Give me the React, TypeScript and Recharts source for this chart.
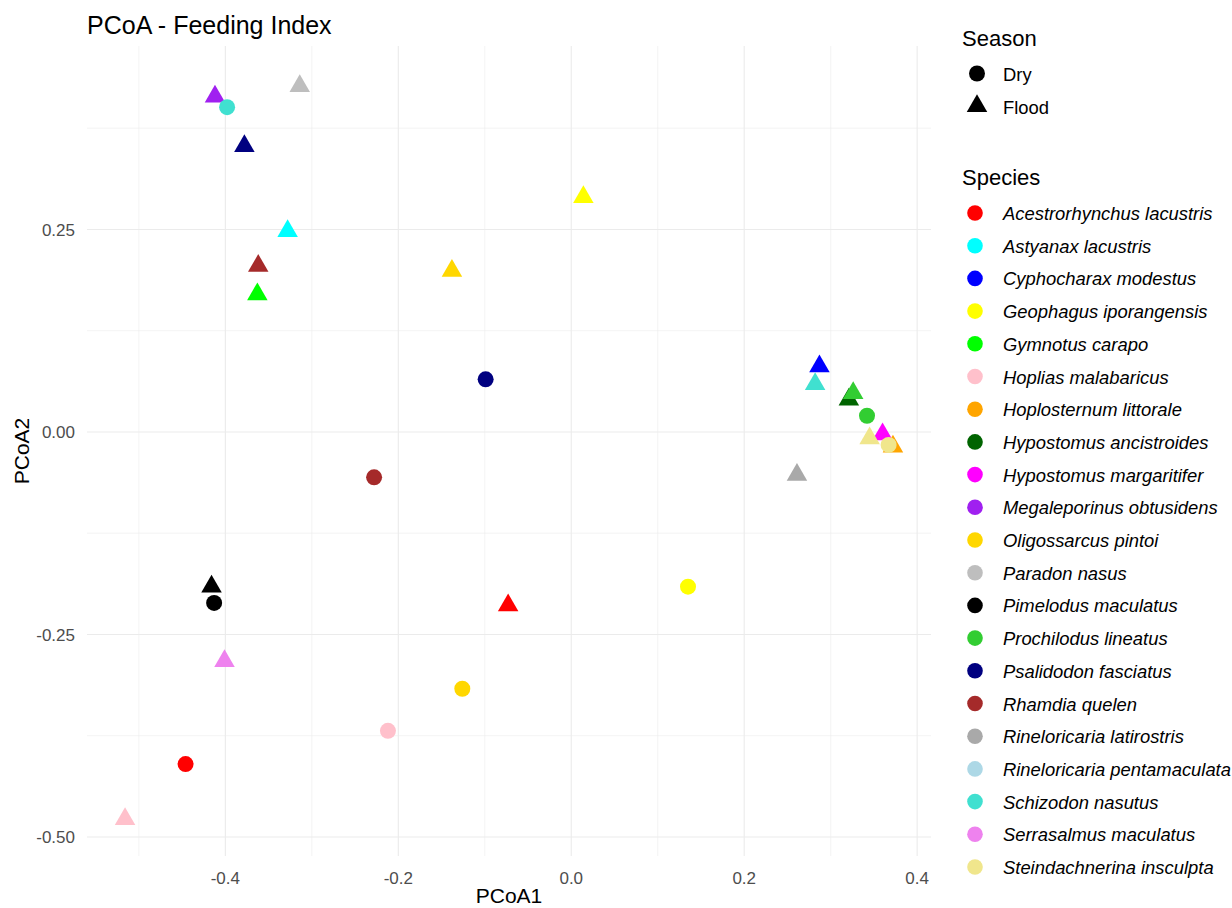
import { ScatterChart, Scatter, XAxis, YAxis, ReferenceLine } from 'recharts';

const FONT = '"Liberation Sans", Arial, sans-serif';

const speciesNames = [
  'Acestrorhynchus lacustris',
  'Astyanax lacustris',
  'Cyphocharax modestus',
  'Geophagus iporangensis',
  'Gymnotus carapo',
  'Hoplias malabaricus',
  'Hoplosternum littorale',
  'Hypostomus ancistroides',
  'Hypostomus margaritifer',
  'Megaleporinus obtusidens',
  'Oligossarcus pintoi',
  'Paradon nasus',
  'Pimelodus maculatus',
  'Prochilodus lineatus',
  'Psalidodon fasciatus',
  'Rhamdia quelen',
  'Rineloricaria latirostris',
  'Rineloricaria pentamaculata',
  'Schizodon nasutus',
  'Serrasalmus maculatus',
  'Steindachnerina insculpta',
];

const speciesColors = [
  '#FF0000', '#00FFFF', '#0000FF', '#FFFF00', '#00FF00', '#FFC0CB', '#FFA500',
  '#006400', '#FF00FF', '#A020F0', '#FFD700', '#BEBEBE', '#000000', '#32CD32',
  '#000080', '#A52A2A', '#A9A9A9', '#ADD8E6', '#40E0D0', '#EE82EE', '#F0E68C',
];

const seasons = ['Dry', 'Flood'];

// one entry per sample, drawn in this order
const pointSpecies = [
  'Megaleporinus obtusidens', 'Schizodon nasutus', 'Paradon nasus', 'Psalidodon fasciatus',
  'Astyanax lacustris', 'Rhamdia quelen', 'Gymnotus carapo', 'Geophagus iporangensis',
  'Oligossarcus pintoi', 'Psalidodon fasciatus', 'Rhamdia quelen', 'Pimelodus maculatus',
  'Pimelodus maculatus', 'Acestrorhynchus lacustris', 'Geophagus iporangensis', 'Serrasalmus maculatus',
  'Oligossarcus pintoi', 'Hoplias malabaricus', 'Acestrorhynchus lacustris', 'Hoplias malabaricus',
  'Cyphocharax modestus', 'Schizodon nasutus', 'Hypostomus ancistroides', 'Prochilodus lineatus',
  'Prochilodus lineatus', 'Hoplosternum littorale', 'Hypostomus margaritifer', 'Steindachnerina insculpta',
  'Steindachnerina insculpta', 'Rineloricaria latirostris',
];
const pointSeason = [
  'Flood', 'Dry', 'Flood', 'Flood',
  'Flood', 'Flood', 'Flood', 'Flood',
  'Flood', 'Dry', 'Dry', 'Flood',
  'Dry', 'Flood', 'Dry', 'Flood',
  'Dry', 'Dry', 'Dry', 'Flood',
  'Flood', 'Flood', 'Flood', 'Flood',
  'Dry', 'Flood', 'Flood', 'Flood',
  'Dry', 'Flood',
];
const pcoa1 = [
  -0.412, -0.398, -0.314, -0.378,
  -0.328, -0.362, -0.363, 0.014,
  -0.138, -0.099, -0.228, -0.416,
  -0.413, -0.073, 0.135, -0.401,
  -0.126, -0.212, -0.446, -0.516,
  0.287, 0.282, 0.321, 0.326,
  0.342, 0.372, 0.36, 0.345,
  0.367, 0.261,
];
const pcoa2 = [
  0.414, 0.401, 0.427, 0.353,
  0.248, 0.205, 0.17, 0.29,
  0.199, 0.065, -0.056, -0.191,
  -0.211, -0.214, -0.191, -0.283,
  -0.317, -0.369, -0.41, -0.478,
  0.081, 0.059, 0.04, 0.048,
  0.02, -0.018, -0.003, -0.008,
  -0.016, -0.053,
];

const xTicks = [-0.4, -0.2, 0, 0.2, 0.4];
const xMinor = [-0.5, -0.3, -0.1, 0.1, 0.3];
const yTicks = [-0.5, -0.25, 0, 0.25];
const yMinor = [-0.375, -0.125, 0.125, 0.375];

const data = pointSpecies.map((sp, i) => ({
  species: sp,
  season: pointSeason[i],
  x: pcoa1[i],
  y: pcoa2[i],
  color: speciesColors[speciesNames.indexOf(sp)],
}));

function Marker({ cx, cy, season, fill }: { cx: number; cy: number; season: string; fill: string }) {
  if (season === 'Flood') {
    const s = 20.5;
    const R = s / Math.sqrt(3);
    const pts = `${cx},${cy - R} ${cx - s / 2},${cy + R / 2} ${cx + s / 2},${cy + R / 2}`;
    return <polygon points={pts} fill={fill} />;
  }
  return <circle cx={cx} cy={cy} r={8} fill={fill} />;
}

function Overlay() {
  return (
    <svg width={1232} height={908} style={{ position: 'absolute', left: 0, top: 0, pointerEvents: 'none' }}>
      <text x={87} y={34} fontSize={25} fontFamily={FONT} fill="#000">PCoA - Feeding Index</text>
      <text x={962} y={46} fontSize={22} fontFamily={FONT} fill="#000">Season</text>
      {seasons.map((s, i) => {
        const cy = 73.5 + i * 32.5;
        return (
          <g key={s}>
            <Marker cx={977} cy={cy} season={s} fill="#000" />
            <text x={1003} y={cy + 7.5} fontSize={18.4} fontFamily={FONT} fill="#000">{s}</text>
          </g>
        );
      })}
      <text x={962} y={185} fontSize={22} fontFamily={FONT} fill="#000">Species</text>
      {speciesNames.map((s, i) => {
        const cy = 213 + i * 32.7;
        return (
          <g key={s}>
            <circle cx={975} cy={cy} r={7.8} fill={speciesColors[i]} />
            <text x={1003} y={cy + 7} fontSize={18.4} fontStyle="italic" fontFamily={FONT} fill="#000">{s}</text>
          </g>
        );
      })}
    </svg>
  );
}

export default function App() {
  return (
    <div style={{ position: 'absolute', left: 0, top: 0, width: 1232, height: 908, background: '#fff' }}>
      <ScatterChart width={1232} height={908} margin={{ top: 46, right: 301, left: 0, bottom: 0 }}>
        {xMinor.map((v) => (
          <ReferenceLine key={`xm${v}`} x={v} stroke="#ededed" strokeWidth={0.6} />
        ))}
        {yMinor.map((v) => (
          <ReferenceLine key={`ym${v}`} y={v} stroke="#ededed" strokeWidth={0.6} />
        ))}
        {xTicks.map((v) => (
          <ReferenceLine key={`xM${v}`} x={v} stroke="#ebebeb" strokeWidth={1.1} />
        ))}
        {yTicks.map((v) => (
          <ReferenceLine key={`yM${v}`} y={v} stroke="#ebebeb" strokeWidth={1.1} />
        ))}
        <XAxis
          type="number"
          dataKey="x"
          domain={[-0.56, 0.416]}
          allowDataOverflow
          ticks={xTicks}
          tickFormatter={(v: number) => v.toFixed(1)}
          axisLine={false}
          tickLine={false}
          tickMargin={10}
          height={52}
          tick={{ fill: '#4d4d4d', fontSize: 17, fontFamily: FONT }}
          label={{ value: 'PCoA1', position: 'insideBottom', offset: 5, fill: '#000', fontSize: 21, fontFamily: FONT }}
        />
        <YAxis
          type="number"
          dataKey="y"
          domain={[-0.5235, 0.4765]}
          allowDataOverflow
          ticks={yTicks}
          tickFormatter={(v: number) => v.toFixed(2)}
          axisLine={false}
          tickLine={false}
          tickMargin={6}
          width={87}
          tick={{ fill: '#4d4d4d', fontSize: 17, fontFamily: FONT }}
          label={(props: any) => {
            const vb = props.viewBox || { x: 0, y: 46, width: 87, height: 810 };
            const cx = vb.x + 21;
            const cy = vb.y + vb.height / 2;
            return (
              <text x={cx} y={cy} transform={`rotate(-90 ${cx} ${cy})`} textAnchor="middle" dominantBaseline="central" fontSize={21} fontFamily={FONT} fill="#000">
                PCoA2
              </text>
            );
          }}
        />
        <Scatter
          data={data}
          isAnimationActive={false}
          shape={(props: any) => (
            <Marker cx={props.cx} cy={props.cy} season={props.payload.season} fill={props.payload.color} />
          )}
        />
      </ScatterChart>
      <Overlay />
    </div>
  );
}
